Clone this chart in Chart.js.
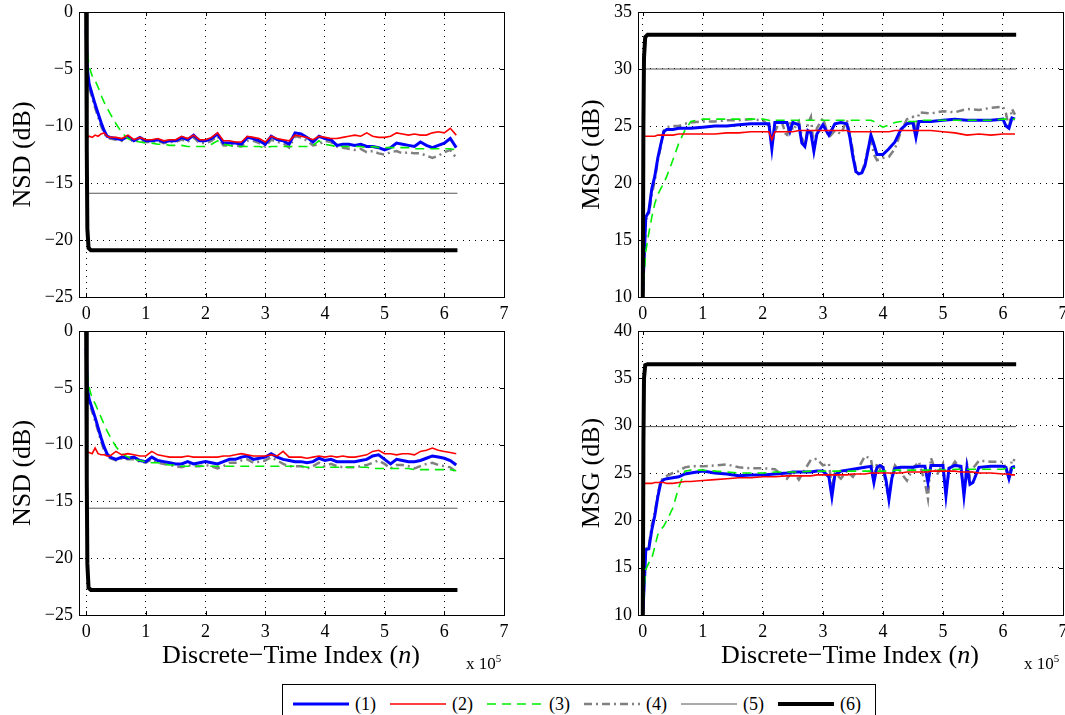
<!DOCTYPE html>
<html>
<head>
<meta charset="utf-8">
<script src="https://cdn.jsdelivr.net/npm/chart.js@4.4.1/dist/chart.umd.min.js"></script>
<style>
  html, body { margin: 0; padding: 0; background: #fff; }
  body { width: 1065px; height: 715px; position: relative; overflow: hidden; font-family: 'Liberation Serif', 'Times New Roman', serif; color: #000; }
  canvas { position: absolute; }
  .xtitle { position: absolute; font-size: 26px; white-space: nowrap; transform: translate(-50%, -50%); }
  .xexp { position: absolute; font-size: 17px; white-space: nowrap; }
  .xexp sup { font-size: 11px; }
  #legend { position: absolute; left: 282px; top: 684px; width: 594px; height: 40px; border: 1px solid #000; box-sizing: border-box; display: flex; align-items: center; padding-left: 10px; background: #fff; }
  .item { display: flex; align-items: center; margin-right: 14px; font-size: 18px; }
  .item svg { margin-right: 6px; }
</style>
</head>
<body>
<canvas id="nsdTop" width="532" height="330" style="left:0;top:0"></canvas>
<canvas id="msgTop" width="533" height="330" style="left:532px;top:0"></canvas>
<canvas id="nsdBot" width="532" height="330" style="left:0;top:320px"></canvas>
<canvas id="msgBot" width="533" height="330" style="left:532px;top:320px"></canvas>

<div class="xtitle" style="left:291px;top:655px">Discrete−Time Index (<i>n</i>)</div>
<div class="xtitle" style="left:850px;top:655px">Discrete−Time Index (<i>n</i>)</div>
<div class="xexp" style="left:466px;top:652px">x 10<sup>5</sup></div>
<div class="xexp" style="left:1024px;top:652px">x 10<sup>5</sup></div>

<div id="legend"></div>

<script>
// x positions are in units of 10^5 samples
const xTicks = [0, 1, 2, 3, 4, 5, 6, 7];

const xNsd = [0, 0.02, 0.05, 0.1, 0.15, 0.2, 0.25, 0.3, 0.35, 0.4,
  0.5, 0.6, 0.7, 0.8, 0.9, 1.0, 1.1, 1.2, 1.3, 1.4,
  1.5, 1.6, 1.7, 1.8, 1.9, 2.0, 2.1, 2.2, 2.3, 2.4,
  2.5, 2.6, 2.7, 2.8, 2.9, 3.0, 3.1, 3.2, 3.3, 3.4,
  3.5, 3.6, 3.7, 3.8, 3.9, 4.0, 4.1, 4.2, 4.3, 4.4,
  4.5, 4.6, 4.7, 4.8, 4.9, 5.0, 5.1, 5.2, 5.3, 5.4,
  5.5, 5.6, 5.7, 5.8, 5.9, 6.0, 6.1, 6.2];

// NSD, upper panel
const nsdTop1 = [-1.5, -5.0, -6.3, -7.2, -8.1, -8.9, -9.7, -10.4, -10.9, -11.0,
  -11.1, -11.2, -10.9, -11.3, -11.0, -11.3, -11.3, -11.2, -11.4, -11.3,
  -11.3, -11.0, -11.2, -10.8, -11.3, -11.3, -11.1, -10.7, -11.5, -11.5,
  -11.5, -11.6, -11.0, -11.1, -11.3, -11.6, -10.9, -11.2, -11.3, -11.6,
  -10.6, -10.7, -11.0, -11.4, -10.9, -11.1, -11.2, -11.7, -11.6, -11.6,
  -11.7, -11.6, -11.8, -11.8, -11.9, -12.1, -11.9, -11.5, -11.6, -11.7,
  -11.8, -11.4, -11.7, -11.9, -11.7, -11.5, -11.1, -11.9];
const nsdTop2 = [-10.9, -11.0, -10.9, -11.0, -10.8, -10.9, -10.7, -10.6, -10.9, -11.0,
  -11.0, -11.1, -10.8, -11.2, -11.0, -11.2, -11.2, -11.1, -11.3, -11.2,
  -11.2, -10.9, -11.1, -10.8, -11.2, -11.2, -11.0, -10.6, -11.3, -11.3,
  -11.4, -11.4, -10.9, -11.0, -11.1, -11.4, -10.9, -11.1, -11.2, -11.3,
  -10.8, -10.9, -11.0, -11.2, -10.9, -11.0, -11.1, -11.1, -11.0, -10.9,
  -10.8, -10.9, -10.6, -10.9, -11.0, -11.0, -10.9, -10.6, -10.7, -10.8,
  -10.7, -10.8, -10.8, -10.6, -10.5, -10.6, -10.2, -10.8];
const nsdTop3 = [-1.0, -3.5, -4.8, -5.6, -6.0, -6.6, -7.3, -7.9, -8.4, -8.9,
  -9.8, -10.6, -11.1, -11.3, -11.4, -11.5, -11.5, -11.6, -11.6, -11.7,
  -11.7, -11.7, -11.8, -11.8, -11.8, -11.8, -11.6, -11.3, -11.6, -11.7,
  -11.8, -11.8, -11.8, -11.8, -11.8, -11.9, -11.8, -11.8, -11.8, -11.8,
  -11.8, -11.8, -11.8, -11.7, -11.3, -11.6, -11.7, -11.8, -11.8, -11.8,
  -11.8, -11.8, -11.9, -11.8, -11.9, -11.9, -11.9, -11.9, -11.9, -11.9,
  -12.0, -12.0, -12.0, -12.0, -12.0, -12.0, -12.0, -12.1];
const nsdTop4 = [-2.0, -5.2, -6.6, -7.5, -8.4, -9.2, -10.0, -10.6, -11.0, -11.1,
  -11.2, -11.3, -11.0, -11.4, -11.2, -11.4, -11.4, -11.3, -11.5, -11.4,
  -11.4, -11.2, -11.4, -11.0, -11.5, -11.5, -11.3, -10.9, -11.7, -11.7,
  -11.7, -11.8, -11.3, -11.3, -11.5, -11.8, -11.2, -11.4, -11.5, -11.9,
  -10.9, -11.0, -11.3, -11.7, -11.6, -11.3, -11.4, -11.8, -11.9, -12.0,
  -12.1, -12.0, -12.3, -12.2, -12.4, -12.5, -12.3, -12.2, -12.4, -12.3,
  -12.4, -12.4, -12.6, -12.8, -12.6, -12.3, -12.1, -12.8];

// NSD, lower panel
const nsdBot1 = [-1.5, -5.0, -6.0, -6.8, -7.6, -8.5, -9.4, -10.2, -10.8, -11.1,
  -11.3, -11.1, -11.2, -11.1, -11.4, -11.5, -11.1, -11.4, -11.5, -11.6,
  -11.7, -11.7, -11.5, -11.7, -11.6, -11.5, -11.6, -11.7, -11.5, -11.3,
  -11.3, -11.1, -11.0, -11.3, -11.2, -11.1, -10.8, -11.1, -11.3, -11.4,
  -11.5, -11.5, -11.6, -11.5, -11.2, -11.4, -11.3, -11.5, -11.5, -11.5,
  -11.5, -11.4, -11.3, -11.0, -10.9, -11.3, -11.7, -11.3, -11.4, -11.5,
  -11.5, -11.4, -11.2, -11.0, -11.1, -11.2, -11.4, -11.8];
const nsdBot2 = [-10.6, -10.7, -10.7, -10.8, -10.3, -10.8, -10.9, -10.9, -11.0, -11.0,
  -10.6, -10.9, -10.8, -10.9, -11.0, -11.0, -10.6, -10.9, -11.0, -11.1,
  -11.1, -11.1, -11.0, -11.1, -11.1, -11.1, -11.1, -11.1, -11.0, -11.0,
  -10.9, -10.8, -10.9, -11.0, -11.0, -11.0, -10.9, -11.0, -10.6, -11.1,
  -11.1, -11.1, -11.2, -11.1, -11.0, -11.1, -11.0, -11.1, -11.0, -11.1,
  -11.1, -11.0, -10.9, -10.6, -10.5, -10.8, -10.8, -10.9, -10.8, -10.8,
  -10.9, -10.6, -10.5, -10.3, -10.5, -10.6, -10.7, -10.8];
const nsdBot3 = [-1.0, -3.8, -5.0, -5.9, -6.4, -7.0, -7.6, -8.2, -8.8, -9.3,
  -10.2, -10.8, -11.1, -11.3, -11.4, -11.5, -11.6, -11.6, -11.7, -11.8,
  -11.8, -11.9, -11.9, -11.9, -11.9, -11.9, -11.9, -11.9, -11.9, -11.9,
  -11.9, -11.9, -11.9, -11.9, -11.9, -11.9, -11.9, -11.9, -11.9, -11.9,
  -11.9, -11.9, -12.0, -12.0, -12.0, -12.0, -12.0, -12.0, -12.0, -12.0,
  -12.0, -12.0, -12.0, -12.1, -12.1, -12.1, -12.1, -12.1, -12.1, -12.1,
  -12.2, -12.2, -12.2, -12.2, -12.2, -12.2, -12.2, -12.3];
const nsdBot4 = [-2.0, -5.3, -6.3, -7.1, -7.9, -8.8, -9.7, -10.5, -11.0, -11.2,
  -11.4, -11.2, -11.3, -11.3, -11.5, -11.6, -11.3, -11.6, -11.7, -11.8,
  -11.9, -12.0, -11.8, -11.9, -11.9, -11.8, -11.9, -12.1, -11.9, -11.6,
  -11.6, -11.4, -11.3, -11.6, -11.5, -11.4, -11.1, -11.4, -11.7, -11.9,
  -11.9, -11.9, -12.1, -11.9, -11.6, -11.9, -11.7, -11.9, -12.0, -12.0,
  -12.0, -11.9, -11.8, -11.6, -11.4, -11.7, -12.1, -11.8, -11.8, -11.9,
  -12.1, -11.9, -11.7, -11.6, -11.8, -11.9, -12.0, -12.4];

// MSG, upper panel
const xMsgTop = [0, 0.03, 0.05, 0.1, 0.15, 0.2, 0.25, 0.3, 0.35, 0.4,
  0.5, 0.6, 0.7, 0.8, 1.0, 1.2, 1.4, 1.6, 1.8, 2.0,
  2.1, 2.15, 2.2, 2.3, 2.4, 2.45, 2.5, 2.6, 2.65, 2.7,
  2.75, 2.8, 2.85, 2.9, 3.0, 3.1, 3.2, 3.3, 3.4, 3.45,
  3.5, 3.55, 3.6, 3.65, 3.7, 3.75, 3.8, 3.85, 3.9, 4.0,
  4.1, 4.2, 4.3, 4.4, 4.5, 4.55, 4.6, 4.8, 5.0, 5.2,
  5.4, 5.6, 5.8, 6.0, 6.05, 6.1, 6.15, 6.2];
const msgTop1 = [10.5, 14.5, 17.0, 17.5, 19.5, 20.6, 22.2, 23.4, 24.5, 24.7,
  24.7, 24.8, 24.8, 24.8, 24.9, 25.0, 25.0, 25.1, 25.2, 25.2,
  25.2, 23.0, 25.3, 25.3, 25.3, 24.5, 25.3, 25.1, 23.5, 23.2,
  24.6, 24.4, 22.8, 24.3, 25.1, 24.2, 25.2, 25.3, 25.2, 24.0,
  22.3, 21.0, 20.8, 20.9, 21.5, 22.8, 24.2, 23.4, 22.5, 22.5,
  23.0, 23.6, 24.7, 25.2, 25.3, 24.0, 25.4, 25.4, 25.5, 25.6,
  25.5, 25.5, 25.5, 25.6, 25.0, 24.8, 25.7, 25.6];
const msgTop2 = [24.1, 24.1, 24.1, 24.1, 24.1, 24.1, 24.2, 24.2, 24.2, 24.2,
  24.2, 24.3, 24.3, 24.3, 24.3, 24.3, 24.4, 24.4, 24.5, 24.5,
  24.5, 23.8, 24.5, 24.5, 24.5, 24.5, 24.5, 24.6, 24.6, 24.6,
  24.6, 24.6, 24.6, 24.6, 24.6, 24.6, 24.6, 24.6, 24.6, 24.5,
  24.5, 24.5, 24.5, 24.5, 24.5, 24.5, 24.5, 24.5, 24.5, 24.5,
  24.5, 24.6, 24.6, 24.6, 24.6, 24.6, 24.6, 24.6, 24.5, 24.4,
  24.2, 24.3, 24.2, 24.3, 24.3, 24.3, 24.3, 24.3];
const msgTop3 = [10.0, 12.5, 14.0, 15.6, 17.0, 18.2, 19.0, 19.5, 20.0, 20.6,
  22.0, 23.5, 24.6, 25.4, 25.6, 25.6, 25.6, 25.6, 25.6, 25.6,
  25.5, 25.4, 25.5, 25.5, 25.5, 25.5, 25.5, 25.5, 25.5, 25.5,
  25.5, 25.5, 25.5, 25.5, 25.5, 25.5, 25.5, 25.5, 25.5, 25.5,
  25.5, 25.5, 25.5, 25.5, 25.5, 25.5, 25.5, 25.4, 25.2, 24.9,
  25.1, 25.3, 25.4, 25.4, 25.4, 25.4, 25.5, 25.5, 25.5, 25.5,
  25.5, 25.5, 25.5, 25.6, 25.6, 25.6, 25.6, 25.6];
const msgTop4 = [10.0, 14.0, 16.8, 17.2, 19.0, 20.2, 22.0, 23.2, 24.6, 24.9,
  25.0, 25.0, 25.2, 25.3, 25.4, 25.4, 25.5, 25.5, 25.6, 25.5,
  25.0, 23.5, 24.5, 25.6, 24.0, 25.5, 24.6, 25.4, 24.0, 23.2,
  25.2, 25.8, 23.0, 24.8, 25.7, 24.0, 24.6, 24.3, 25.5, 24.3,
  22.8, 21.2, 20.7, 21.0, 21.8, 23.0, 24.0, 22.5, 22.0, 22.2,
  22.3, 23.0, 24.5, 25.6, 25.8, 24.3, 26.2, 26.1, 26.3, 26.2,
  26.5, 26.4, 26.6, 26.7, 26.1, 24.8, 26.5, 26.0];

// MSG, lower panel
const xMsgBot = [0, 0.03, 0.05, 0.1, 0.15, 0.2, 0.25, 0.3, 0.35, 0.4,
  0.5, 0.6, 0.7, 0.8, 1.0, 1.2, 1.4, 1.6, 1.8, 2.0,
  2.2, 2.4, 2.5, 2.6, 2.8, 2.9, 3.0, 3.1, 3.15, 3.2,
  3.3, 3.4, 3.5, 3.6, 3.7, 3.8, 3.85, 3.9, 3.95, 4.0,
  4.05, 4.1, 4.15, 4.2, 4.3, 4.4, 4.5, 4.6, 4.7, 4.75,
  4.8, 4.9, 5.0, 5.05, 5.1, 5.2, 5.3, 5.35, 5.4, 5.45,
  5.5, 5.6, 5.8, 6.0, 6.05, 6.1, 6.15, 6.2];
const msgBot1 = [10.2, 14.0, 16.9, 17.0, 19.0, 20.5, 22.5, 24.0, 24.3, 24.4,
  24.5, 24.6, 24.9, 25.0, 25.2, 25.0, 24.9, 24.7, 24.8, 24.8,
  24.9, 25.0, 25.1, 25.1, 25.1, 25.2, 25.2, 24.6, 22.5, 24.8,
  25.2, 25.3, 25.4, 25.5, 25.6, 25.7, 24.0, 25.6, 25.8, 25.6,
  24.3, 22.2, 24.5, 25.5, 25.6, 25.6, 25.6, 25.7, 25.7, 24.0,
  25.8, 25.8, 25.8, 22.6, 25.5, 25.8, 25.7, 22.6, 25.6, 23.8,
  24.0, 25.6, 25.7, 25.7, 25.6, 24.4, 25.6, 25.7];
const msgBot2 = [23.9, 23.9, 23.9, 23.9, 23.9, 24.0, 24.0, 24.0, 24.0, 23.9,
  23.9, 24.0, 24.1, 24.1, 24.2, 24.3, 24.4, 24.5, 24.5, 24.6,
  24.6, 24.7, 24.7, 24.7, 24.7, 24.8, 24.8, 24.8, 24.8, 24.8,
  24.8, 24.8, 24.9, 24.9, 24.9, 25.0, 25.0, 25.0, 25.0, 25.0,
  25.0, 25.0, 25.0, 25.0, 25.0, 25.1, 25.1, 25.1, 25.1, 25.1,
  25.2, 25.2, 25.2, 25.2, 25.2, 25.2, 25.1, 25.1, 25.1, 25.1,
  25.1, 25.0, 25.0, 24.9, 24.9, 24.9, 24.8, 24.8];
const msgBot3 = [10.0, 13.5, 14.8, 15.5, 16.0, 17.2, 18.5, 19.0, 19.4, 20.0,
  21.3, 23.5, 25.2, 25.3, 25.3, 25.2, 25.1, 25.0, 25.0, 25.0,
  25.1, 25.1, 25.1, 25.1, 25.2, 25.2, 25.2, 25.2, 25.2, 25.2,
  25.2, 25.2, 25.2, 25.2, 25.2, 25.2, 25.2, 25.2, 25.2, 25.2,
  25.2, 25.2, 25.2, 25.3, 25.3, 25.3, 25.3, 25.3, 25.3, 25.3,
  25.3, 25.3, 25.3, 25.3, 25.3, 25.4, 25.4, 25.4, 25.4, 25.4,
  25.4, 25.4, 25.4, 25.4, 25.5, 25.5, 25.5, 25.5];
const msgBot4 = [10.0, 14.5, 17.0, 17.2, 19.5, 20.8, 22.8, 24.2, 24.5, 24.7,
  25.0, 25.2, 25.6, 25.7, 25.7, 25.8, 25.9, 25.6, 25.5, 25.5,
  25.4, 24.4, 25.2, 24.3, 26.4, 26.5, 25.8, 26.0, 23.5, 25.0,
  24.4, 25.2, 24.6, 25.6, 26.8, 26.5, 24.5, 26.0, 25.4, 26.0,
  23.5, 22.4, 24.8, 25.8, 25.0, 24.2, 25.5, 26.2, 24.0, 22.3,
  26.6, 24.8, 26.0, 22.8, 25.2, 26.2, 25.4, 23.0, 26.0, 24.6,
  25.5, 26.3, 26.2, 26.2, 25.4, 24.4, 26.5, 26.3];

// reference curves (5) flat level and (6) fast-converging bound
const xRef5 = [0, 6.22];
const xRef6 = [0, 0.01, 0.02, 0.04, 0.08, 6.22];
const nsdTop5 = [-15.9, -15.9];
const nsdTop6 = [0, -12, -19, -20.7, -20.9, -20.9];
const nsdBot5 = [-15.6, -15.6];
const nsdBot6 = [0, -13, -20.5, -22.6, -22.8, -22.8];
const msgTop5 = [30.0, 30.0];
const msgTop6 = [10, 25, 31, 32.8, 33.0, 33.0];
const msgBot5 = [29.9, 29.9];
const msgBot6 = [10, 28, 35, 36.4, 36.5, 36.5];

const seriesNames = ['(1)', '(2)', '(3)', '(4)', '(5)', '(6)'];

const FONT = "'Liberation Serif', 'Times New Roman', serif";

const styles = [
  { borderColor: '#0000ff', borderWidth: 3 },
  { borderColor: '#ff0000', borderWidth: 1.6 },
  { borderColor: '#00ee00', borderWidth: 1.6, borderDash: [9, 6] },
  { borderColor: '#808080', borderWidth: 2.5, borderDash: [8, 4, 2, 4] },
  { borderColor: '#555555', borderWidth: 1 },
  { borderColor: '#000000', borderWidth: 4 }
];

const pts = (xs, ys) => ys.map((y, i) => ({ x: xs[i], y: y }));

// frame + inward ticks, like a MATLAB box
const framePlugin = {
  id: 'frame',
  afterDraw(chart) {
    const { ctx, chartArea: a, scales } = chart;
    ctx.save();
    ctx.strokeStyle = '#000';
    ctx.lineWidth = 1;
    ctx.strokeRect(Math.round(a.left) + 0.5, Math.round(a.top) + 0.5,
      Math.round(a.right - a.left), Math.round(a.bottom - a.top));
    ctx.beginPath();
    scales.x.ticks.forEach(t => {
      const px = Math.round(scales.x.getPixelForValue(t.value)) + 0.5;
      ctx.moveTo(px, a.bottom); ctx.lineTo(px, a.bottom - 4);
      ctx.moveTo(px, a.top); ctx.lineTo(px, a.top + 4);
    });
    scales.y.ticks.forEach(t => {
      const py = Math.round(scales.y.getPixelForValue(t.value)) + 0.5;
      ctx.moveTo(a.left, py); ctx.lineTo(a.left + 4, py);
      ctx.moveTo(a.right, py); ctx.lineTo(a.right - 4, py);
    });
    ctx.stroke();
    ctx.restore();
  }
};

function makePanel(id, o) {
  const data = [
    pts(o.x, o.s1), pts(o.x, o.s2), pts(o.x, o.s3), pts(o.x, o.s4),
    pts(xRef5, o.s5), pts(xRef6, o.s6)
  ];
  // first dataset is drawn on top
  const drawOrder = [5, 4, 1, 2, 0, 3];
  const datasets = drawOrder.map(i => Object.assign({
    label: seriesNames[i],
    data: data[i],
    pointRadius: 0,
    tension: 0,
    fill: false
  }, styles[i]));

  new Chart(document.getElementById(id), {
    type: 'line',
    data: { datasets },
    options: {
      responsive: false,
      animation: false,
      events: [],
      layout: { padding: { top: o.padTop, right: o.padRight, left: 0, bottom: 0 } },
      plugins: { legend: { display: false }, tooltip: { enabled: false } },
      scales: {
        x: {
          type: 'linear',
          min: o.xMin,
          max: 7,
          afterBuildTicks: s => { s.ticks = xTicks.map(v => ({ value: v })); },
          afterFit: s => { s.height = o.xAxisH; s.paddingLeft = 0; s.paddingRight = 0; },
          grid: { color: '#000', lineWidth: 1, drawTicks: false },
          border: { display: false, dash: [1, 5] },
          ticks: { padding: 6, maxRotation: 0, color: '#000', font: { family: FONT, size: 18 } }
        },
        y: {
          min: o.yMin,
          max: o.yMax,
          afterFit: s => { s.width = o.yAxisW; s.paddingTop = 0; s.paddingBottom = 0; },
          grid: { color: '#000', lineWidth: 1, drawTicks: false },
          border: { display: false, dash: [1, 5] },
          ticks: {
            stepSize: 5, padding: 6, color: '#000', font: { family: FONT, size: 18 },
            callback: v => (v < 0 ? '\u2212' + Math.abs(v) : String(v))
          },
          title: {
            display: true, text: o.yTitle, color: '#000',
            font: { family: FONT, size: 26 }, padding: { top: o.titlePad, bottom: 0 }
          }
        }
      }
    },
    plugins: [framePlugin]
  });
}

makePanel('nsdTop', {
  x: xNsd, s1: nsdTop1, s2: nsdTop2, s3: nsdTop3, s4: nsdTop4, s5: nsdTop5, s6: nsdTop6,
  yMin: -25, yMax: 0, yTitle: 'NSD (dB)', xMin: -0.12,
  padTop: 12, padRight: 28, xAxisH: 33, yAxisW: 79, titlePad: 8
});
makePanel('nsdBot', {
  x: xNsd, s1: nsdBot1, s2: nsdBot2, s3: nsdBot3, s4: nsdBot4, s5: nsdBot5, s6: nsdBot6,
  yMin: -25, yMax: 0, yTitle: 'NSD (dB)', xMin: -0.12,
  padTop: 11, padRight: 28, xAxisH: 35, yAxisW: 79, titlePad: 8
});
makePanel('msgTop', {
  x: xMsgTop, s1: msgTop1, s2: msgTop2, s3: msgTop3, s4: msgTop4, s5: msgTop5, s6: msgTop6,
  yMin: 10, yMax: 35, yTitle: 'MSG (dB)', xMin: -0.08,
  padTop: 12, padRight: 2, xAxisH: 33, yAxisW: 106, titlePad: 45
});
makePanel('msgBot', {
  x: xMsgBot, s1: msgBot1, s2: msgBot2, s3: msgBot3, s4: msgBot4, s5: msgBot5, s6: msgBot6,
  yMin: 10, yMax: 40, yTitle: 'MSG (dB)', xMin: -0.08,
  padTop: 11, padRight: 2, xAxisH: 35, yAxisW: 106, titlePad: 45
});

// legend row
const legendEl = document.getElementById('legend');
seriesNames.forEach((name, i) => {
  const st = styles[i];
  const dash = st.borderDash ? ` stroke-dasharray="${st.borderDash.join(',')}"` : '';
  const item = document.createElement('div');
  item.className = 'item';
  item.innerHTML = `<svg width="56" height="10"><line x1="0" y1="5" x2="56" y2="5" stroke="${st.borderColor}" stroke-width="${st.borderWidth}"${dash}/></svg><span>${name}</span>`;
  legendEl.appendChild(item);
});
</script>
</body>
</html>
